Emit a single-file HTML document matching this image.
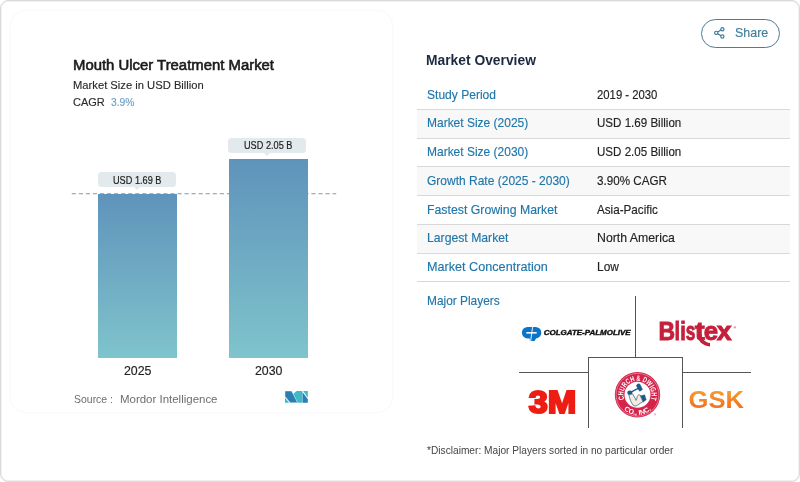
<!DOCTYPE html>
<html lang="en">
<head>
<meta charset="utf-8">
<title>Mouth Ulcer Treatment Market</title>
<style>
*{box-sizing:border-box;margin:0;padding:0}
html,body{width:800px;height:482px;background:#fff;overflow:hidden}
body{font-family:"Liberation Sans",Arial,sans-serif;position:relative;color:#1d1d1d}
.frame{position:absolute;left:0;top:0;width:800px;height:482px;border:1px solid #dadada;border-radius:8px;background:#fff;box-shadow:inset 0 0 0 1px #f0f0f0}
.card{position:absolute;left:11px;top:11px;width:381px;height:401px;border-radius:15px;background:#fff;box-shadow:0 0 3px rgba(0,0,0,.06)}
.t{position:absolute;white-space:nowrap;line-height:1;transform-origin:0 0}
.bar{position:absolute;background:linear-gradient(180deg,#5f93bb 0%,#7fc4cc 100%)}
.pill{position:absolute;height:15px;border-radius:3.5px;background:#e3eaed}
.pill:after{content:"";position:absolute;left:50%;margin-left:-3px;top:15px;border:3px solid transparent;border-top-color:#e3eaed;border-bottom:0}
.share{position:absolute;left:701px;top:19.4px;width:79.4px;height:28.2px;border:1px solid #4c7d96;border-radius:15px;background:#fff}
.row{position:absolute;left:417px;width:373px;border-bottom:1px solid #d8d8d8}
.row.g{background:#f8f8f8}
.ln{position:absolute;background:#555}
svg{position:absolute;overflow:visible}
</style>
</head>
<body>
<div class="frame"></div>

<section>
<div class="card"></div>

<svg style="left:0;top:0" width="400" height="400"><line x1="71.7" y1="193.7" x2="336.2" y2="193.7" stroke="#7f9aab" stroke-width="1.1" stroke-dasharray="4.2 2.85"/></svg>
<div class="bar" style="left:98.2px;top:193.7px;width:78.7px;height:164.6px"></div>
<div class="bar" style="left:229.1px;top:159px;width:79px;height:199.3px"></div>
<div class="pill" style="left:98.1px;top:172.2px;width:78.2px"></div>
<div class="pill" style="left:228.2px;top:137.7px;width:78.2px"></div>

<svg style="left:284.5px;top:390.5px" width="22.8" height="11.8" preserveAspectRatio="none" viewBox="170 130 450 230">
<polygon points="400,130 510,130 510,360 420,360 330,190" fill="#3dbcc6"/>
<polygon points="170,130 300,130 420,360 270,360 170,232" fill="#2a7fb2" stroke="#fff" stroke-width="8"/>
<polygon points="170,258 250,360 170,360" fill="#3dbcc6"/>
<polygon points="516,150 620,290 620,360 516,360" fill="#2a7fb2"/>
<polygon points="528,130 620,130 620,262" fill="#3dbcc6"/>
</svg>

<div class="t" style="left:73.2px;top:57.84px;font-size:14.9px;color:#1b1b1b;-webkit-text-stroke:0.6px #1b1b1b;transform:scaleX(0.9995)">Mouth Ulcer Treatment Market</div>
<div class="t" style="left:73.2px;top:78.93px;font-size:11.6px;color:#2b2b2b;-webkit-text-stroke:0.15px #2b2b2b;transform:scaleX(0.9667)">Market Size in USD Billion</div>
<div class="t" style="left:73.2px;top:96.86px;font-size:11.8px;color:#2b2b2b;-webkit-text-stroke:0.15px #2b2b2b;transform:scaleX(0.9327)">CAGR</div>
<div class="t" style="left:111.0px;top:96.86px;font-size:11.8px;color:#6a9fc4;-webkit-text-stroke:0.15px #6a9fc4;transform:scaleX(0.8739)">3.9%</div>
<div class="t" style="left:112.9px;top:175.73px;font-size:10.3px;color:#222;-webkit-text-stroke:0.2px #222;transform:scaleX(0.8901)">USD 1.69 B</div>
<div class="t" style="left:243.9px;top:141.13px;font-size:10.3px;color:#222;-webkit-text-stroke:0.2px #222;transform:scaleX(0.8901)">USD 2.05 B</div>
<div class="t" style="left:123.9px;top:365.19px;font-size:12.0px;color:#222;-webkit-text-stroke:0.15px #222;transform:scaleX(1.0298)">2025</div>
<div class="t" style="left:254.9px;top:365.19px;font-size:12.0px;color:#222;-webkit-text-stroke:0.15px #222;transform:scaleX(1.0298)">2030</div>
<div class="t" style="left:74.0px;top:393.80px;font-size:11.4px;color:#6d6d6d;transform:scaleX(0.9193)">Source :</div>
<div class="t" style="left:120.0px;top:393.80px;font-size:11.4px;color:#6d6d6d;transform:scaleX(1.0065)">Mordor Intelligence</div>
</section>

<section>
<div class="share">
<svg style="left:12.4px;top:6.8px" width="10.8" height="11.7" viewBox="0 0 12 13" fill="none" stroke="#3f7c9c" stroke-width="1.3"><circle cx="9.3" cy="2.5" r="1.8"/><circle cx="2.5" cy="6.5" r="1.8"/><circle cx="9.3" cy="10.5" r="1.8"/><path d="M4.1 5.6 7.7 3.4M4.1 7.4 7.7 9.6"/></svg>
</div>

<div class="row" style="top:81px;height:29px"></div>
<div class="row g" style="top:110px;height:29px"></div>
<div class="row" style="top:139px;height:28px"></div>
<div class="row g" style="top:167px;height:29px"></div>
<div class="row" style="top:196px;height:29px"></div>
<div class="row g" style="top:225px;height:29px"></div>
<div class="row" style="top:254px;height:28px"></div>

<div class="ln" style="left:635px;top:296px;width:1px;height:62px"></div>
<div class="ln" style="left:588px;top:357px;width:95px;height:1px"></div>
<div class="ln" style="left:588px;top:357px;width:1px;height:71px"></div>
<div class="ln" style="left:682px;top:357px;width:1px;height:71px"></div>
<div class="ln" style="left:519px;top:372px;width:70px;height:1px"></div>
<div class="ln" style="left:682px;top:372px;width:69px;height:1px"></div>

<svg style="left:0;top:0" width="800" height="482" viewBox="0 0 800 482" font-family="'Liberation Sans', Arial, sans-serif">
<defs>
<linearGradient id="gsk" x1="0" y1="0" x2="0" y2="1"><stop offset="0" stop-color="#f7a62d"/><stop offset="1" stop-color="#f2651c"/></linearGradient>
<path id="arcTop" d="M 624.26 399.36 A 14 14 0 1 1 650.74 399.36"/>
<path id="arcBot" d="M 623.98 409.81 A 20.2 20.2 0 0 0 651.02 409.81"/>
</defs>

<!-- Colgate-Palmolive -->
<g>
<rect x="521.9" y="326.9" width="19.4" height="11.5" rx="5.75" fill="#0b74c4"/>
<polygon points="529.8,336.5 537,336.5 534.6,341.1 529.8,341.1" fill="#0b74c4"/>
<rect x="526.3" y="332.1" width="10.4" height="1.5" fill="#fff"/>
<line x1="532.7" y1="326.5" x2="530.6" y2="341.2" stroke="#fff" stroke-width="0.9"/>
<text x="543.8" y="335.3" font-size="7.6" font-weight="700" font-style="italic" fill="#111" stroke="#111" stroke-width="0.4" textLength="86.8" lengthAdjust="spacingAndGlyphs">COLGATE-PALMOLIVE</text>
</g>

<!-- Blistex -->
<g fill="#c5203b">
<text y="340.4" font-size="26.6" font-weight="700" stroke="#c5203b" stroke-width="0.9"><tspan x="658.6" textLength="16.6" lengthAdjust="spacingAndGlyphs">B</tspan><tspan x="674.4" textLength="5.6" lengthAdjust="spacingAndGlyphs">l</tspan><tspan x="680.3" textLength="5.6" lengthAdjust="spacingAndGlyphs">i</tspan><tspan x="685.8" textLength="9.6" lengthAdjust="spacingAndGlyphs">s</tspan><tspan x="694.8" textLength="10" lengthAdjust="spacingAndGlyphs">t</tspan><tspan x="703.8" textLength="14.4" lengthAdjust="spacingAndGlyphs">e</tspan><tspan x="716.7" textLength="14.9" lengthAdjust="spacingAndGlyphs">x</tspan></text>
<path d="M697.2 334 C697.4 341 702.6 345.9 710 346.4 L710 343 C705 342.4 701.8 339.4 701.6 334 Z"/>
<text x="733.6" y="329" font-size="3.4" font-weight="700">®</text>
</g>

<!-- 3M -->
<text x="528.8" y="412.6" font-size="32" font-weight="700" fill="#ee1d13" stroke="#ee1d13" stroke-width="2.2" textLength="47.6" lengthAdjust="spacingAndGlyphs">3M</text>

<!-- Church & Dwight -->
<g>
<circle cx="637.5" cy="394.8" r="22.7" fill="#d4244c"/>
<circle cx="637.5" cy="394.8" r="21.4" fill="none" stroke="#fff" stroke-width="0.5" stroke-opacity="0.7"/>
<circle cx="637.5" cy="394.8" r="13" fill="#fff"/>
<text font-size="7.7" font-weight="700" fill="#fff"><textPath href="#arcTop" textLength="53" lengthAdjust="spacingAndGlyphs">CHURCH &amp; DWIGHT</textPath></text>
<text font-size="7" font-weight="700" fill="#fff"><textPath href="#arcBot" textLength="29.6" lengthAdjust="spacingAndGlyphs">CO., INC.</textPath></text>
<text x="654" y="415.8" font-size="2.6" fill="#d4244c">®</text>
<!-- arm & hammer -->
<g stroke="#1d5a86" stroke-linecap="round" stroke-linejoin="round">
<path d="M630 392.6 L638.6 388.2" stroke-width="1.3" fill="none"/>
<rect x="637.6" y="383.9" width="3.6" height="7" rx="1.2" transform="rotate(-27 639.4 387.4)" fill="#1d5a86" stroke-width="0.6"/>
<path d="M628.8 394.6 C629.6 398.6 631 402.4 633 405 C634.2 406.4 636 406.2 637.4 405.2 L643.4 401.2 L641 395.8 C639.4 394.2 637.6 394.8 637.2 396.6 C637 398.2 636.6 399.4 636 400.4 C635.2 398.2 634 396 632.6 394 Z" fill="#f9eadb" stroke-width="0.7"/>
<ellipse cx="629.8" cy="392.7" rx="2.6" ry="2.1" fill="#1d5a86" stroke="none"/>
<path d="M640.7 396 L644.6 394.8 L646.2 399.8 L643.3 401.9 Z" fill="#1d5a86" stroke-width="0.5"/>
</g>
</g>

<!-- GSK -->
<text x="688.6" y="407.9" font-size="23.6" font-weight="700" fill="url(#gsk)" textLength="55.4" lengthAdjust="spacingAndGlyphs">GSK</text>
</svg>


<div class="t" style="left:734.8px;top:26.44px;font-size:13.6px;color:#3f7c9c;-webkit-text-stroke:0.15px #3f7c9c;transform:scaleX(0.9178)">Share</div>
<div class="t" style="left:426.4px;top:53.77px;font-size:13.8px;color:#1b2a41;font-weight:700;transform:scaleX(1.0021)">Market Overview</div>
<div class="t" style="left:426.5px;top:89.13px;font-size:12.9px;color:#1f76aa;-webkit-text-stroke:0.15px #1f76aa;transform:scaleX(0.9348)">Study Period</div>
<div class="t" style="left:426.5px;top:117.23px;font-size:12.9px;color:#1f76aa;-webkit-text-stroke:0.15px #1f76aa;transform:scaleX(0.9292)">Market Size (2025)</div>
<div class="t" style="left:426.5px;top:145.93px;font-size:12.9px;color:#1f76aa;-webkit-text-stroke:0.15px #1f76aa;transform:scaleX(0.9292)">Market Size (2030)</div>
<div class="t" style="left:426.5px;top:174.63px;font-size:12.9px;color:#1f76aa;-webkit-text-stroke:0.15px #1f76aa;transform:scaleX(0.9312)">Growth Rate (2025 - 2030)</div>
<div class="t" style="left:426.5px;top:204.13px;font-size:12.9px;color:#1f76aa;-webkit-text-stroke:0.15px #1f76aa;transform:scaleX(0.9538)">Fastest Growing Market</div>
<div class="t" style="left:426.5px;top:232.13px;font-size:12.9px;color:#1f76aa;-webkit-text-stroke:0.15px #1f76aa;transform:scaleX(0.9478)">Largest Market</div>
<div class="t" style="left:426.5px;top:260.93px;font-size:12.9px;color:#1f76aa;-webkit-text-stroke:0.15px #1f76aa;transform:scaleX(0.9801)">Market Concentration</div>
<div class="t" style="left:426.5px;top:294.53px;font-size:12.9px;color:#1f76aa;-webkit-text-stroke:0.15px #1f76aa;transform:scaleX(0.9224)">Major Players</div>
<div class="t" style="left:596.6px;top:89.13px;font-size:12.9px;color:#222;-webkit-text-stroke:0.15px #222;transform:scaleX(0.8777)">2019 - 2030</div>
<div class="t" style="left:596.6px;top:117.23px;font-size:12.9px;color:#222;-webkit-text-stroke:0.15px #222;transform:scaleX(0.8980)">USD 1.69 Billion</div>
<div class="t" style="left:596.6px;top:145.93px;font-size:12.9px;color:#222;-webkit-text-stroke:0.15px #222;transform:scaleX(0.8980)">USD 2.05 Billion</div>
<div class="t" style="left:596.6px;top:174.63px;font-size:12.9px;color:#222;-webkit-text-stroke:0.15px #222;transform:scaleX(0.9032)">3.90% CAGR</div>
<div class="t" style="left:596.6px;top:204.13px;font-size:12.9px;color:#222;-webkit-text-stroke:0.15px #222;transform:scaleX(0.9043)">Asia-Pacific</div>
<div class="t" style="left:596.6px;top:232.13px;font-size:12.9px;color:#222;-webkit-text-stroke:0.15px #222;transform:scaleX(0.9538)">North America</div>
<div class="t" style="left:596.6px;top:260.93px;font-size:12.9px;color:#222;-webkit-text-stroke:0.15px #222;transform:scaleX(0.9258)">Low</div>
<div class="t" style="left:426.8px;top:445.19px;font-size:10.7px;color:#444;transform:scaleX(0.9515)">*Disclaimer: Major Players sorted in no particular order</div>
</section>
</body>
</html>
